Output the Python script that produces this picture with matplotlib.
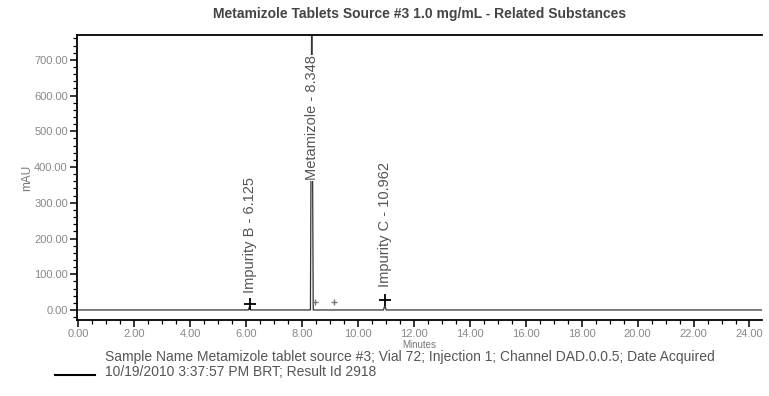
import matplotlib.pyplot as plt
from matplotlib.ticker import MultipleLocator, FormatStrFormatter

plt.rcParams['font.family'] = ['Liberation Sans', 'DejaVu Sans']

# Chromatogram trace (minutes, mAU)
thoi_gian = [0.00, 6.08, 6.125, 6.17, 8.30, 8.348, 8.40, 10.91, 10.962, 11.01, 24.45]
tin_hieu = [0.0, 0.0, 10.0, 0.0, 0.0, 900.0, 0.0, 0.0, 12.0, 0.0, 0.0]

# Integrated peaks
ten_peak = ['Impurity B', 'Metamizole', 'Impurity C']
rt_peak = [6.125, 8.348, 10.962]
vi_tri_nhan = [210, 538, 238]

# Peak start/end marks
moc_x = [6.125, 10.962]
moc_y = [18.0, 28.0]
moc_nho_x = [8.45, 9.15]
moc_nho_y = [22.0, 22.0]

mau_chu = '#555555'

fig = plt.figure(figsize=(7.69, 3.96), dpi=100)
ax = fig.add_axes([0.100, 0.192, 0.891, 0.720])

ax.plot(thoi_gian, tin_hieu, color='#333333', lw=0.9)
ax.plot(moc_x, moc_y, linestyle='none', marker='+', color='black',
        markersize=9, markeredgewidth=1.3)
ax.plot(moc_nho_x, moc_nho_y, linestyle='none', marker='+', color='#777777',
        markersize=4, markeredgewidth=1.0)

for ten, rt, yn in zip(ten_peak, rt_peak, vi_tri_nhan):
    ax.text(rt, yn, f'{ten} - {rt:.3f}', rotation=90, fontsize=10.5,
            color=mau_chu, ha='center', va='center',
            bbox=dict(facecolor='white', edgecolor='none', pad=0.5))

ax.set_xlim(-0.05, 24.45)
ax.set_ylim(-28, 770)
ax.xaxis.set_major_locator(MultipleLocator(2))
ax.xaxis.set_minor_locator(MultipleLocator(0.5))
ax.yaxis.set_major_locator(MultipleLocator(100))
ax.yaxis.set_minor_locator(MultipleLocator(20))
ax.xaxis.set_major_formatter(FormatStrFormatter('%.2f'))
ax.yaxis.set_major_formatter(FormatStrFormatter('%.2f'))
ax.tick_params(which='major', direction='out', length=5, width=1.1, labelsize=8,
               labelcolor='#888888', pad=1.5)
ax.tick_params(which='minor', direction='out', length=3, width=0.9)

ax.spines['right'].set_visible(False)
for s in ['left', 'bottom', 'top']:
    ax.spines[s].set_linewidth(1.3)

ax.set_xlabel('Minutes', fontsize=7, color='#777777', labelpad=1)
ax.set_ylabel('mAU', fontsize=8.5, color='#777777', labelpad=1)
ax.set_title('Metamizole Tablets Source #3 1.0 mg/mL - Related Substances',
             fontsize=10, color='#444444', fontweight='bold', pad=12)

# Legend line and sample info below the plot
fig.add_artist(plt.Line2D([0.072, 0.124], [0.053, 0.053], color='black', lw=1.5))
fig.text(0.137, 0.098,
         'Sample Name Metamizole tablet source #3; Vial 72; Injection 1; '
         'Channel DAD.0.0.5; Date Acquired', fontsize=10, color=mau_chu, va='center')
fig.text(0.137, 0.060, '10/19/2010 3:37:57 PM BRT; Result Id 2918',
         fontsize=10, color=mau_chu, va='center')

fig.savefig('out.png', dpi=100)
